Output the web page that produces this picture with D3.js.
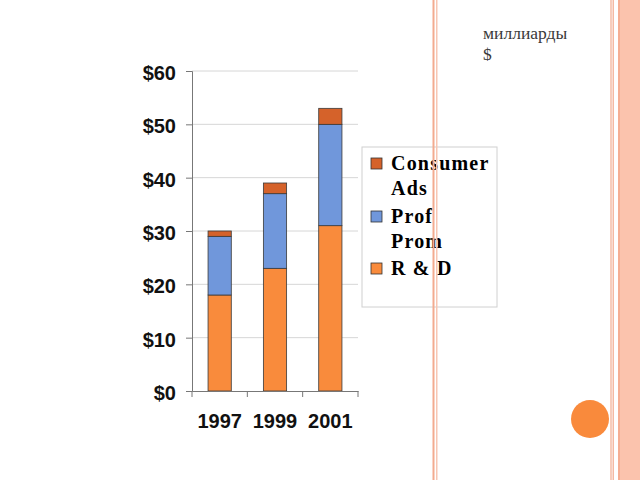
<!DOCTYPE html>
<html><head><meta charset="utf-8">
<script src="https://cdn.jsdelivr.net/npm/d3@7"></script>
<style>html,body{margin:0;padding:0;background:#fff;}svg{display:block;}</style>
</head><body>
<script>
const years = ["1997", "1999", "2001"];
const seriesNames = ["R & D", "Prof Prom", "Consumer Ads"];
const rd = [18, 23, 31];
const profProm = [11, 14, 19];
const consumerAds = [1, 2, 3];
const yTicks = [0, 10, 20, 30, 40, 50, 60];
const legendLabels = [["Consumer", "Ads"], ["Prof", "Prom"], ["R & D"]];
const unitLines = ["миллиарды", "$"];

const colors = {"R & D": "#f98b3c", "Prof Prom": "#7097db", "Consumer Ads": "#d5622a"};

const W = 640, H = 480;
const svg = d3.select("body").append("svg").attr("width", W).attr("height", H);

// unit label
const ut = svg.append("text")
  .attr("font-family", "Liberation Serif, Times New Roman, serif").attr("font-size", 17.5).attr("fill", "#3a3a3a");
unitLines.forEach((l, i) => ut.append("tspan").attr("x", 483).attr("y", 39 + i * 21).text(l));

// scales
const x = d3.scaleBand().domain(years).range([192, 358]).paddingInner(0.58).paddingOuter(0.29);
const y = d3.scaleLinear().domain([0, 60]).range([391, 71]);

// gridlines
svg.append("g").selectAll("line").data(yTicks.filter(t => t > 0)).join("line")
  .attr("x1", 192).attr("x2", 358).attr("y1", d => y(d)).attr("y2", d => y(d))
  .attr("stroke", "#d6d6d6").attr("stroke-width", 1);

// stacked bars
const table = years.map((yr, i) => ({year: yr, "R & D": rd[i], "Prof Prom": profProm[i], "Consumer Ads": consumerAds[i]}));
const stack = d3.stack().keys(seriesNames)(table);
svg.append("g").selectAll("g").data(stack).join("g")
  .attr("fill", d => colors[d.key])
  .selectAll("rect").data(d => d).join("rect")
  .attr("x", d => x(d.data.year)).attr("width", x.bandwidth())
  .attr("y", d => y(d[1])).attr("height", d => y(d[0]) - y(d[1]))
  .attr("stroke", "#3a3a3a").attr("stroke-width", 0.8);

// y axis
const yAxis = d3.axisLeft(y).tickValues(yTicks).tickFormat(d => "$" + d).tickSize(6).tickPadding(10);
const gy = svg.append("g").attr("transform", "translate(192,0)").call(yAxis);
gy.select(".domain").attr("stroke", "#777");
gy.selectAll(".tick line").attr("stroke", "#777");
gy.selectAll("text").attr("font-family", "Liberation Sans, Arial, sans-serif").attr("font-size", 20)
  .attr("font-weight", "bold").attr("fill", "#111").attr("dy", "0.42em");

// x axis
const xAxis = d3.axisBottom(x).tickSize(0).tickPadding(23);
const gx = svg.append("g").attr("transform", "translate(0,391)").call(xAxis);
gx.select(".domain").attr("stroke", "#777");
gx.selectAll("text").attr("font-family", "Liberation Sans, Arial, sans-serif").attr("font-size", 20)
  .attr("font-weight", "bold").attr("fill", "#111");
// category separator ticks
const step = x.step();
const seps = d3.range(years.length + 1).map(i => 192 + i * step);
svg.append("g").selectAll("line").data(seps).join("line")
  .attr("x1", d => d).attr("x2", d => d).attr("y1", 391).attr("y2", 397)
  .attr("stroke", "#777");

// legend
const lg = svg.append("g");
lg.append("rect").attr("x", 362).attr("y", 147).attr("width", 135).attr("height", 160)
  .attr("fill", "#fff").attr("stroke", "#d0d0d0").attr("stroke-width", 1);
const legendKeys = ["Consumer Ads", "Prof Prom", "R & D"];
const rowY = [163, 216, 268];
legendKeys.forEach((k, i) => {
  lg.append("rect").attr("x", 371).attr("y", rowY[i] - 5).attr("width", 11).attr("height", 11)
    .attr("fill", colors[k]).attr("stroke", "#333").attr("stroke-width", 0.8);
  const t = lg.append("text").attr("font-family", "Liberation Serif, Times New Roman, serif")
    .attr("font-size", 20).attr("font-weight", "bold").attr("letter-spacing", "1.2px").attr("fill", "#000");
  legendLabels[i].forEach((line, j) => {
    t.append("tspan").attr("x", 391).attr("y", rowY[i] + 7 + j * 25).text(line);
  });
});

// decorative slide frame (drawn on top, as in the slide)
svg.append("rect").attr("x", 432.5).attr("y", 0).attr("width", 2).attr("height", H).attr("fill", "#f3ab90");
svg.append("rect").attr("x", 436).attr("y", 0).attr("width", 1.5).attr("height", H).attr("fill", "#f7c6b3");
svg.append("rect").attr("x", 610).attr("y", 0).attr("width", 2).attr("height", H).attr("fill", "#f7cdbd");
svg.append("rect").attr("x", 612.5).attr("y", 0).attr("width", 1.5).attr("height", H).attr("fill", "#f4b9a3");
svg.append("rect").attr("x", 618).attr("y", 0).attr("width", 22).attr("height", H).attr("fill", "#fbc3ad");
svg.append("rect").attr("x", 618).attr("y", 0).attr("width", 2).attr("height", H).attr("fill", "#f5ae93");
svg.append("circle").attr("cx", 590).attr("cy", 419).attr("r", 19).attr("fill", "#f98a3c");
</script>
</body></html>
